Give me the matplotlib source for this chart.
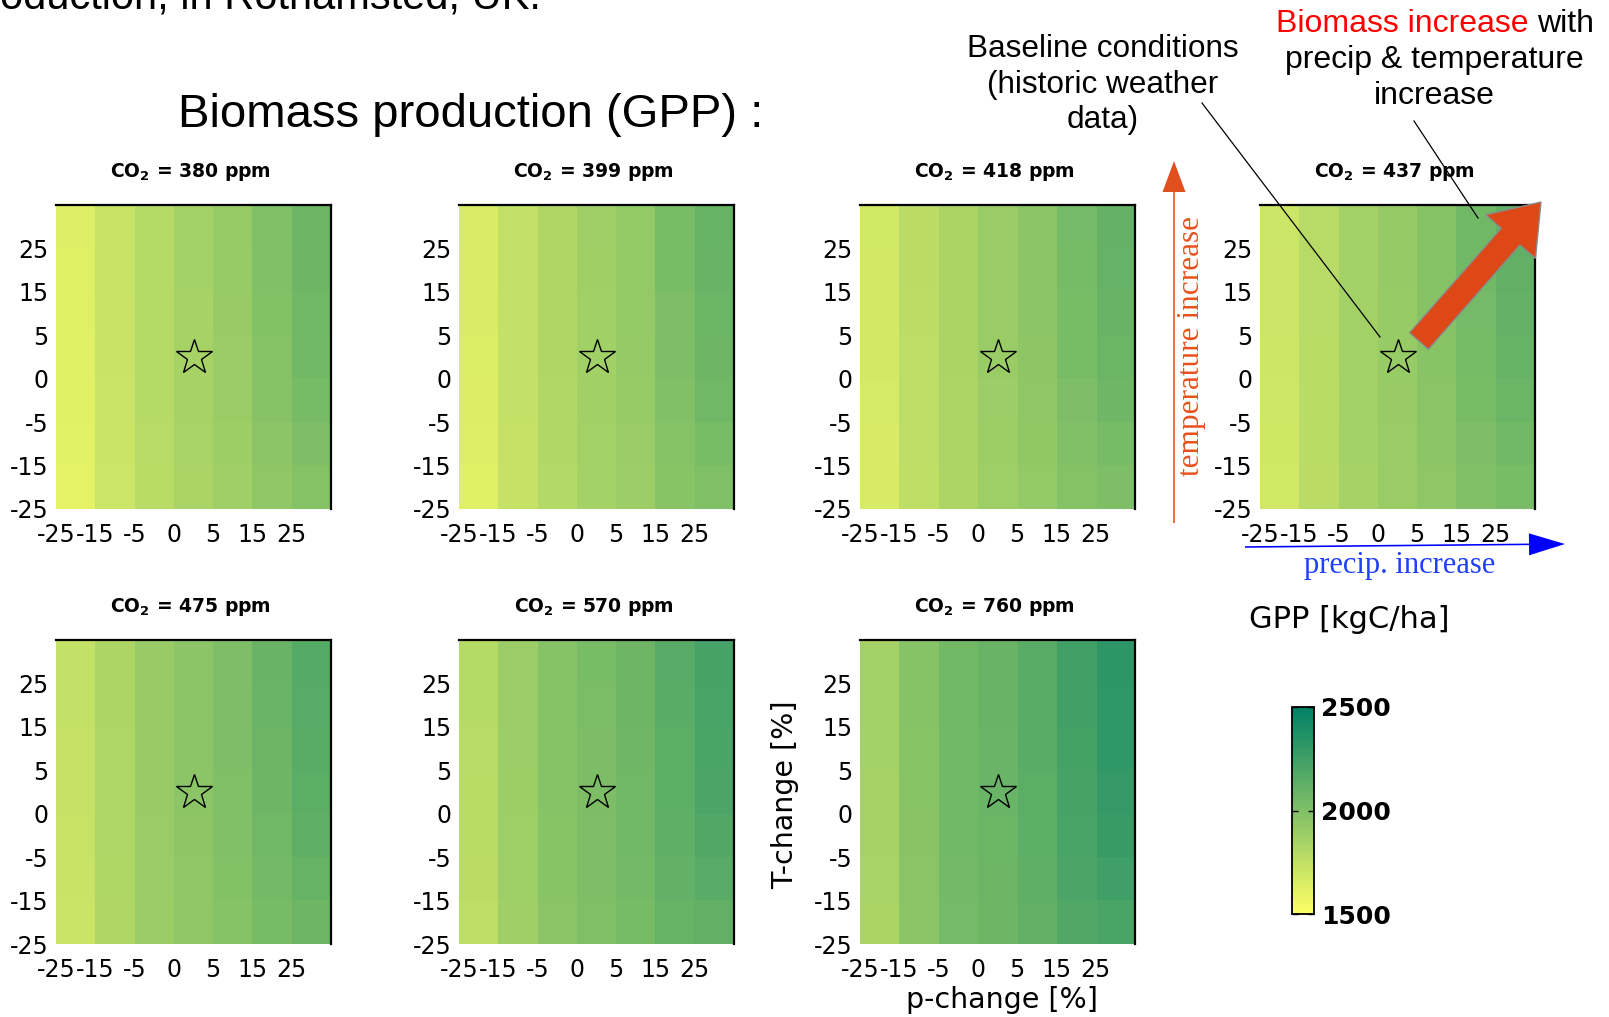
import numpy as np
import matplotlib.pyplot as plt
from matplotlib.patches import FancyArrow

W, H = 1609, 1017

p_change = ["-25", "-15", "-5", "0", "5", "15", "25"]
t_change = ["-25", "-15", "-5", "0", "5", "15", "25"]
co2 = [380, 399, 418, 437, 475, 570, 760]

# GPP [kgC/ha], rows from T=+25 (top) down to T=-25, columns p=-25 .. +25
gpp_380 = [[1630, 1720, 1790, 1855, 1910, 2000, 2075],
           [1628, 1720, 1790, 1853, 1908, 1995, 2070],
           [1625, 1718, 1790, 1850, 1905, 1985, 2060],
           [1620, 1715, 1790, 1850, 1900, 1980, 2050],
           [1615, 1712, 1787, 1845, 1895, 1970, 2035],
           [1610, 1710, 1785, 1840, 1885, 1955, 2005],
           [1605, 1705, 1780, 1835, 1875, 1940, 1980]]
gpp_399 = [[1650, 1740, 1810, 1875, 1925, 2025, 2095],
           [1648, 1740, 1810, 1873, 1923, 2020, 2090],
           [1645, 1738, 1810, 1870, 1920, 2010, 2080],
           [1640, 1735, 1810, 1870, 1915, 2005, 2070],
           [1635, 1732, 1807, 1865, 1910, 1995, 2055],
           [1630, 1730, 1805, 1860, 1900, 1980, 2025],
           [1625, 1725, 1800, 1855, 1890, 1965, 2000]]
gpp_418 = [[1680, 1770, 1835, 1900, 1955, 2040, 2105],
           [1678, 1770, 1835, 1898, 1953, 2035, 2100],
           [1675, 1768, 1835, 1895, 1950, 2025, 2090],
           [1670, 1765, 1835, 1895, 1945, 2020, 2080],
           [1665, 1762, 1832, 1890, 1940, 2010, 2065],
           [1660, 1760, 1830, 1885, 1930, 1995, 2035],
           [1655, 1755, 1825, 1880, 1920, 1980, 2010]]
gpp_437 = [[1705, 1785, 1860, 1915, 1975, 2055, 2120],
           [1703, 1785, 1860, 1913, 1973, 2050, 2115],
           [1700, 1783, 1860, 1910, 1970, 2040, 2105],
           [1695, 1780, 1860, 1910, 1965, 2035, 2095],
           [1690, 1777, 1857, 1905, 1960, 2025, 2080],
           [1685, 1775, 1855, 1900, 1950, 2010, 2050],
           [1680, 1770, 1850, 1895, 1940, 1995, 2025]]
gpp_475 = [[1735, 1825, 1905, 1955, 2010, 2090, 2165],
           [1733, 1825, 1905, 1953, 2008, 2085, 2160],
           [1730, 1823, 1905, 1950, 2005, 2075, 2150],
           [1725, 1820, 1905, 1950, 2000, 2070, 2140],
           [1720, 1817, 1902, 1945, 1995, 2060, 2125],
           [1715, 1815, 1900, 1940, 1985, 2045, 2095],
           [1710, 1810, 1895, 1935, 1975, 2030, 2070]]
gpp_570 = [[1790, 1890, 1970, 2020, 2070, 2155, 2225],
           [1788, 1890, 1970, 2018, 2068, 2150, 2220],
           [1785, 1888, 1970, 2015, 2065, 2140, 2210],
           [1780, 1885, 1970, 2015, 2060, 2135, 2200],
           [1775, 1882, 1967, 2010, 2055, 2125, 2185],
           [1770, 1880, 1965, 2005, 2045, 2110, 2155],
           [1765, 1875, 1960, 2000, 2035, 2095, 2120]]
gpp_760 = [[1860, 1970, 2050, 2090, 2150, 2245, 2320],
           [1858, 1970, 2050, 2088, 2148, 2240, 2315],
           [1855, 1968, 2050, 2085, 2145, 2230, 2305],
           [1850, 1965, 2050, 2085, 2140, 2225, 2295],
           [1845, 1962, 2047, 2080, 2135, 2215, 2280],
           [1840, 1960, 2045, 2075, 2125, 2200, 2250],
           [1835, 1955, 2040, 2070, 2115, 2185, 2210]]
panels = [gpp_380, gpp_399, gpp_418, gpp_437, gpp_475, gpp_570, gpp_760]

plt.rcParams["mathtext.fontset"] = "dejavusans"

fig = plt.figure(figsize=(W / 100, H / 100), dpi=100)

lefts = [56, 459, 860, 1260]
tops = [205, 640]
aw, ah = 275, 304

axes = []
for k, vals in enumerate(panels):
    r, c = divmod(k, 4)
    x0, y0 = lefts[c], tops[r]
    ax = fig.add_axes([x0 / W, 1 - (y0 + ah) / H, aw / W, ah / H])
    im = ax.imshow(np.array(vals), cmap="summer_r", vmin=1500, vmax=2500,
                   extent=(0, 7, 0, 7), aspect="auto", interpolation="nearest")
    # star at the baseline scenario (p=0, T=0)
    ix = p_change.index("0") + 0.5
    iy = t_change.index("0") + 0.5
    ax.plot(ix, iy, marker="*", ms=26.5, mfc="none", mec="k", mew=1.0)
    ax.set_xlim(0, 7)
    ax.set_ylim(0, 7)
    ax.set_xticks(range(7))
    ax.set_xticklabels(p_change)
    ax.set_yticks(range(7))
    ax.set_yticklabels(t_change)
    ax.tick_params(length=0, labelsize=17, pad=10)
    ax.tick_params(axis="y", pad=5.5)
    for s in ["left", "bottom"]:
        ax.spines[s].set_visible(False)
    for s in ["top", "right"]:
        ax.spines[s].set_linewidth(1.6)
    ax.text(0.49, 1.0 + 28 / ah, r"$\mathbf{CO_2}$ = %d ppm" % co2[k],
            transform=ax.transAxes, ha="center", va="baseline",
            fontsize=13.5, fontweight="bold")
    axes.append(ax)

# colorbar
cax = fig.add_axes([1292 / W, 1 - 914 / H, 22 / W, 207 / H])
cb = fig.colorbar(im, cax=cax, ticks=[1500, 2000, 2500])
cb.outline.set_linewidth(1.3)
cax.tick_params(direction="in", length=4, width=1, left=True, right=True,
                labelsize=18, pad=5)
for t in cax.get_yticklabels():
    t.set_fontweight("bold")

# overlay in pixel coordinates for text and arrows
ov = fig.add_axes([0, 0, 1, 1], zorder=10)
ov.set_xlim(0, W)
ov.set_ylim(H, 0)
ov.axis("off")
ov.patch.set_alpha(0)

sans = "Liberation Sans"
serif = "Liberation Serif"

ov.text(0, 8, "oduction, in Rothamsted, UK.", fontsize=30, family=sans,
        ha="left", va="baseline")
ov.text(178, 127, "Biomass production (GPP) :", fontsize=34, family=sans,
        ha="left", va="baseline")

for txt, yb in [("Baseline conditions", 57), ("(historic weather", 93), ("data)", 128)]:
    ov.text(1103, yb, txt, fontsize=22.7, family=sans, ha="center", va="baseline")
ov.plot([1202, 1380], [103, 337], color="k", lw=0.9)

t1 = ov.text(1276, 32, "Biomass increase ", fontsize=23, family=sans,
             color="#ff0000", ha="left", va="baseline")
ov.annotate("with", xy=(1, 0), xycoords=t1, fontsize=23, family=sans,
            color="k", ha="left", va="bottom")
ov.text(1434, 68, "precip & temperature", fontsize=23, family=sans,
        ha="center", va="baseline")
ov.text(1434, 104, "increase", fontsize=23, family=sans,
        ha="center", va="baseline")
ov.plot([1414, 1478], [121, 218], color="k", lw=0.9)

# big diagonal arrow
ov.add_patch(FancyArrow(1419, 341, 122, -139, width=25, head_width=66,
                        head_length=46, length_includes_head=True,
                        facecolor="#dd4816", edgecolor="#8a8a8a", lw=1))

# temperature arrow
ov.add_patch(FancyArrow(1174, 523, 0, -362, width=1.6, head_width=23,
                        head_length=31, length_includes_head=True,
                        facecolor="#e0501e", edgecolor="none"))
ov.text(1192, 346, "temperature increase", fontsize=22.5, family=serif,
        color="#e8501e", rotation=90, ha="center", va="center")

# precipitation arrow
ov.add_patch(FancyArrow(1245, 547, 320, -3, width=1.6, head_width=22,
                        head_length=36, length_includes_head=True,
                        facecolor="#0000ff", edgecolor="none"))
ov.text(1400, 565, "precip. increase", fontsize=22, family=serif,
        color="#1f3fff", ha="center", va="center")

ov.text(1249, 620, "GPP [kgC/ha]", fontsize=22, ha="left", va="center")
ov.text(785, 795, "T-change [%]", fontsize=20.5, rotation=90,
        ha="center", va="center")
ov.text(1002, 1000, "p-change [%]", fontsize=20.5, ha="center", va="center")

fig.savefig("out.png", dpi=100)
